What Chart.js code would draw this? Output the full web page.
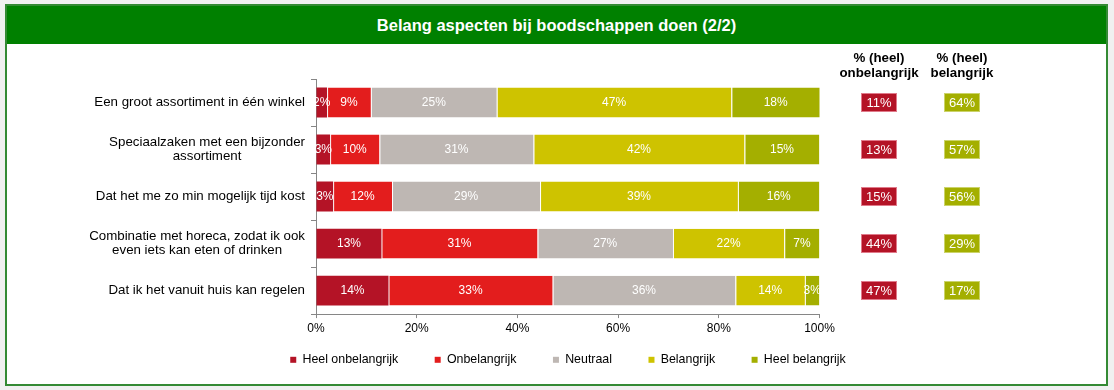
<!DOCTYPE html>
<html>
<head>
<meta charset="utf-8">
<script src="https://cdn.jsdelivr.net/npm/chart.js@4"></script>
<style>
html,body{margin:0;padding:0;background:#f0f0f0;width:1114px;height:390px;overflow:hidden;}
#frame{position:absolute;left:5px;top:4px;width:1103px;height:382px;box-sizing:border-box;border:2px solid #348a34;background:#fff;overflow:hidden;}
#title{position:absolute;left:0;top:0;width:100%;height:38px;background:#008000;color:#fff;font:bold 16.5px "Liberation Sans",Arial,sans-serif;text-align:center;line-height:38px;}
#c{position:absolute;left:0;top:38px;}
</style>
</head>
<body>
<div id="frame">
  <div id="title">Belang aspecten bij boodschappen doen (2/2)</div>
  <canvas id="c" width="1099" height="332"></canvas>
</div>
<script>
// ---- data ----
const categories = [
  ['Een groot assortiment in één winkel'],
  ['Speciaalzaken met een bijzonder', 'assortiment'],
  ['Dat het me zo min mogelijk tijd kost'],
  ['Combinatie met horeca, zodat ik ook', 'even iets kan eten of drinken'],
  ['Dat ik het vanuit huis kan regelen']
];
const seriesNames = ['Heel onbelangrijk', 'Onbelangrijk', 'Neutraal', 'Belangrijk', 'Heel belangrijk'];
const heelOnbelangrijk = [2.2, 2.8, 3.4, 13.0, 14.4];
const onbelangrijk     = [8.7, 9.8, 11.7, 31.0, 32.6];
const neutraal         = [25.0, 30.6, 29.4, 26.9, 36.3];
const belangrijk       = [46.6, 41.9, 39.3, 22.1, 13.8];
const heelBelangrijk   = [17.6, 14.9, 16.2, 7.0, 2.9];
const pctOnbelangrijk  = [11, 13, 15, 44, 47];
const pctBelangrijk    = [64, 57, 56, 29, 17];
const xTicks = [0, 20, 40, 60, 80, 100];
const headerOnbelangrijk = ['% (heel)', 'onbelangrijk'];
const headerBelangrijk   = ['% (heel)', 'belangrijk'];

// ---- styling ----
const FONT = '"Liberation Sans", Arial, sans-serif';
const colors = ['#B41326', '#E31D1D', '#BEB7B3', '#CEC300', '#A4AF00'];
const seriesValues = [heelOnbelangrijk, onbelangrijk, neutraal, belangrijk, heelBelangrijk];
const AXIS = '#868686';

const overlay = {
  id: 'overlay',
  afterDatasetsDraw(chart) {
    const ctx = chart.ctx;
    ctx.save();
    ctx.font = '12px ' + FONT;
    ctx.fillStyle = '#ffffff';
    ctx.textAlign = 'center';
    ctx.textBaseline = 'middle';
    chart.data.datasets.forEach((ds, di) => {
      chart.getDatasetMeta(di).data.forEach((el, i) => {
        const v = ds.data[i];
        ctx.fillText(Math.round(v) + '%', (el.x + el.base) / 2, el.y + 0.5);
      });
    });
    ctx.restore();
  },
  afterDraw(chart) {
    const ctx = chart.ctx;
    const ys = chart.scales.y;
    const xs = chart.scales.x;
    ctx.save();
    ctx.textAlign = 'center';
    ctx.textBaseline = 'middle';
    // x tick labels
    ctx.font = '12px ' + FONT;
    ctx.fillStyle = '#000';
    xs.ticks.forEach(t => {
      ctx.fillText(t.value + '%', xs.getPixelForValue(t.value), xs.top + 15);
    });
    // category labels (lines centred within a right-aligned block)
    ctx.font = '13.3px ' + FONT;
    const right = ys.right - 5 - 6;
    categories.forEach((lines, i) => {
      const yc = ys.getPixelForValue(i);
      const w = Math.max(...lines.map(l => ctx.measureText(l).width));
      const cx = right - w / 2;
      lines.forEach((l, j) => {
        ctx.fillText(l, cx, yc + (j - (lines.length - 1) / 2) * 14);
      });
    });
    // column headers
    const colX = [872, 955];
    ctx.font = 'bold 13.3px ' + FONT;
    [headerOnbelangrijk, headerBelangrijk].forEach((h, k) => {
      h.forEach((l, j) => ctx.fillText(l, colX[k], 14.5 + j * 14.5));
    });
    // summary boxes
    const boxFill = [colors[0], colors[4]];
    const boxStroke = ['#e07a8a', '#cbd36a'];
    const vals = [pctOnbelangrijk, pctBelangrijk];
    ctx.font = '13px ' + FONT;
    vals.forEach((arr, k) => {
      arr.forEach((v, i) => {
        const yc = ys.getPixelForValue(i) - 0.5;
        const x0 = colX[k] - 18, y0 = Math.round(yc - 9.5);
        ctx.fillStyle = boxFill[k];
        ctx.fillRect(x0, y0, 36, 19);
        ctx.strokeStyle = boxStroke[k];
        ctx.lineWidth = 1;
        ctx.strokeRect(x0 + 0.5, y0 + 0.5, 35, 18);
        ctx.fillStyle = '#fff';
        ctx.fillText(v + '%', colX[k], y0 + 10);
      });
    });
    ctx.restore();
  }
};

new Chart(document.getElementById('c'), {
  type: 'bar',
  data: {
    labels: categories.map(c => c.join(' ')),
    datasets: seriesNames.map((n, i) => ({
      label: n,
      data: seriesValues[i],
      backgroundColor: colors[i],
      borderColor: 'rgba(255,255,255,0.9)',
      borderWidth: {left: i === 0 ? 0 : 1, right: 0, top: 0, bottom: 0},
      borderSkipped: false,
      barPercentage: 0.635,
      categoryPercentage: 1
    }))
  },
  options: {
    indexAxis: 'y',
    responsive: false,
    animation: false,
    layout: {padding: {left: 23, right: 0, top: 35, bottom: 0}},
    scales: {
      x: {
        stacked: true, min: 0, max: 100, position: 'bottom',
        afterBuildTicks: s => { s.ticks = xTicks.map(v => ({value: v})); },
        ticks: {display: false},
        grid: {display: true, drawOnChartArea: false, drawTicks: true, tickLength: 4, color: AXIS},
        border: {display: true, color: AXIS, width: 1},
        afterFit: s => { s.height = 3; }
      },
      y: {
        stacked: true, position: 'left',
        ticks: {display: false},
        grid: {display: true, drawOnChartArea: false, drawTicks: true, tickLength: 5, color: AXIS, offset: true},
        border: {display: true, color: AXIS, width: 1},
        afterFit: s => { s.width = 286; }
      },
      yR: {
        type: 'linear', position: 'right', display: true,
        ticks: {display: false}, grid: {display: false}, border: {display: false},
        afterFit: s => { s.width = 286.5; }
      }
    },
    plugins: {
      tooltip: {enabled: false},
      legend: {
        position: 'bottom', align: 'center',
        labels: {
          boxWidth: 6, boxHeight: 6, padding: 36.5, color: '#000',
          font: {family: FONT, size: 12.4},
          generateLabels: chart => chart.data.datasets.map((d, i) => ({
            text: d.label, fillStyle: d.backgroundColor, strokeStyle: d.backgroundColor,
            lineWidth: 0, hidden: false, datasetIndex: i, fontColor: '#000'
          }))
        }
      }
    }
  },
  plugins: [overlay]
});
</script>
</body>
</html>
